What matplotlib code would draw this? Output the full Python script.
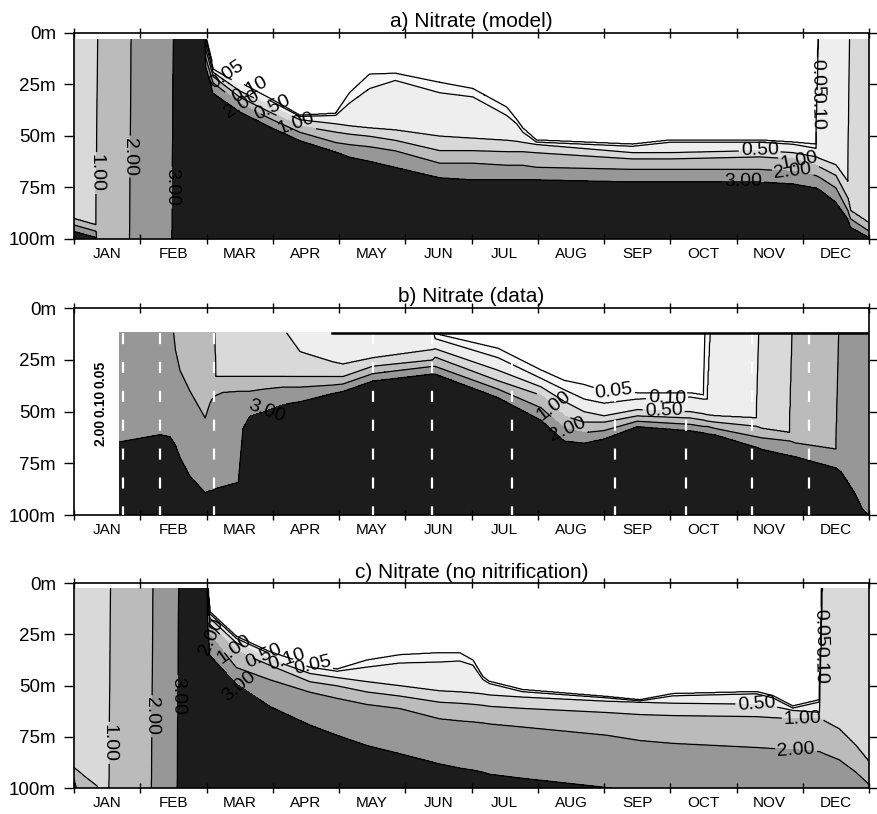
import numpy as np
import matplotlib
matplotlib.use("Agg")
import matplotlib.pyplot as plt

plt.rcParams['font.family'] = ['Liberation Sans', 'DejaVu Sans']

# ---------------- data ----------------
months = ["JAN", "FEB", "MAR", "APR", "MAY", "JUN", "JUL", "AUG", "SEP", "OCT", "NOV", "DEC"]
depth_ticks = [0, 25, 50, 75, 100]
depth_labels = ["0m", "25m", "50m", "75m", "100m"]
levels = [0.05, 0.10, 0.50, 1.00, 2.00, 3.00]
titles = ["a) Nitrate (model)", "b) Nitrate (data)", "c) Nitrate (no nitrification)"]

A = -40.0   # isoline above the surface (whole column exceeds the level)
B = 140.0   # isoline below 100 m (whole column below the level)

# Depth (m) of each nitrate isoline at key times (time in months from 1 Jan)
# ---- panel a (model)
a_time = [0.00, 0.33, 0.37, 0.83, 0.87, 1.47, 1.51, 1.95, 1.99, 2.10, 2.50, 3.00, 3.41, 3.95, 4.16,
          4.46, 4.85, 5.52, 6.02, 6.53, 6.68, 6.77, 6.98, 8.43, 9.00, 10.35, 10.85, 11.20, 11.26,
          11.50, 11.68, 11.72, 12.00]
a_d005 = [A, A, A, A, A, A, A, A, 2, 16.5, 24, 32.5, 40, 39, 29, 20, 19.6, 24, 27, 36, 42, 46, 52,
          54, 52, 52, 53, 54, A, A, A, A, A]
a_d010 = [A, A, A, A, A, A, A, A, 3, 17.5, 25, 33.5, 40.5, 40, 34, 27, 23, 29, 31, 40, 44, 48, 53,
          55, 53, 53, 54, 56, A, A, A, A, A]
a_d050 = [A, A, A, A, A, A, A, A, 5, 19, 28, 36, 42, 44, 45, 46, 47, 50, 51, 52, 52.5, 53, 54, 58,
          58, 57, 58, 60, 61, 64, 72, A, A]
a_d100 = [90, 93, A, A, A, A, A, A, 8, 21, 31, 39, 45, 48, 49, 50, 52, 57, 57, 57.5, 57.5, 57.5, 58,
          61, 61, 60, 61, 64, 65, 69, 80, 86, 92]
a_d200 = [93, 96, B, B, A, A, A, A, 12, 24, 34, 42, 48, 53, 54, 55, 57, 63, 63, 64, 64, 64, 65, 66,
          66, 66, 67, 69, 70, 75, 86, 90, 96]
a_d300 = [96, 99, B, B, B, B, A, A, 16, 29, 38, 46, 52, 57.5, 60, 62, 65, 70, 71, 71, 71, 71, 71, 72,
          72, 72, 73, 75, 76, 82, 90, 94, 99]

# ---- panel b (data)
b_time = [0.60, 1.30, 1.45, 1.53, 1.60, 1.75, 1.98, 2.05, 2.08, 2.14, 2.25, 2.48, 2.55, 2.65, 2.85,
          3.15, 3.21, 3.41, 3.91, 4.06, 4.51, 5.41, 5.45, 6.40, 7.05, 7.40, 7.70, 8.00, 8.50, 9.30,
          9.50, 9.56, 9.68, 10.30, 10.38, 10.80, 10.88, 11.50, 11.58, 11.78, 11.90, 12.00]
b_d005 = [A, A, A, A, A, A, A, A, A, A, A, A, A, A, A, A, A, A, A, A, A, A, 12.4, 19.5, 30, 35, 37,
          40, 41, 41, 42, A, A, A, A, A, A, A, A, A, A, A]
b_d010 = [A, A, A, A, A, A, A, A, A, A, A, A, A, A, A, A, A, A, A, A, A, 10, 14.8, 24, 34, 39.5, 44,
          46, 44, 43, 44, 44, A, A, A, A, A, A, A, A, A, A]
b_d050 = [A, A, A, A, A, A, A, A, A, A, A, A, A, A, A, A, 12, 21, 26, 27, 24, 20, 19.6, 30, 38, 45,
          50, 52, 49, 50, 51, 51.5, 52, 53, A, A, A, A, A, A, A, A]
b_d100 = [A, A, A, A, A, A, A, A, A, 33, 33, 33, 33, 33, 33, 33, 33, 33, 33, 33, 28, 25, 23.6, 35, 42,
          52, 55, 55, 52, 53, 54, 54.5, 55, 57, 58, 60, A, A, A, A, A, A]
b_d200 = [A, A, -5, 20, 30, 40, 53, 46, 44, 42, 40.5, 40, 40, 40, 39, 38, 38, 38, 37, 36.5, 31.5, 28,
          28, 39, 48, 58, 60, 59, 54.5, 56, 57, 57, 58, 62, 62.5, 64, 65, 68, A, A, A, A]
b_d300 = [65, 61, 62, 66, 72, 81, 89, 88, 88, 87, 86, 84, 58, 52, 50, 46.5, 46, 45, 41, 40, 35, 31.6,
          31.6, 43, 54, 64, 65, 63, 57, 59, 60, 60.5, 61, 67, 68, 71, 71.5, 77, 79, 89, 97, 100]
b_first_time = 0.69          # first cruise
b_top_depth = 12.0           # shallowest sample
b_top_line_start = 3.9
b_sample_times = [0.74, 1.30, 2.11, 4.51, 5.41, 6.61, 8.16, 9.23, 10.24, 11.10]

# ---- panel c (no nitrification)
c_time = [0.00, 0.35, 0.52, 0.56, 1.16, 1.20, 1.55, 1.59, 1.98, 2.02, 2.05, 2.45, 2.96, 3.56, 3.97,
          4.42, 4.92, 5.52, 5.82, 6.02, 6.17, 6.27, 6.77, 8.04, 8.54, 9.04, 10.30, 10.55, 10.85,
          11.25, 11.32, 11.55, 11.80, 12.00]
c_d005 = [A, A, A, A, A, A, A, A, A, 3, 14, 26, 33.6, 40, 42, 37.6, 35, 34, 34, 37.6, 45.7, 48, 52,
          55.4, 57, 54, 53, 55, 60, 57, A, A, A, A]
c_d010 = [A, A, A, A, A, A, A, A, A, 3.5, 15, 27, 34.5, 41, 43, 41, 39, 38.5, 38, 40, 47, 49, 53, 56,
          57.5, 55, 54, 56, 61, 58, A, A, A, A]
c_d050 = [A, A, A, A, A, A, A, A, A, 4, 17, 29, 37, 44, 46, 48, 50, 52.5, 53, 53.5, 54, 54.5, 55.5,
          57.5, 58, 58.5, 59, 60, 62, 63, A, A, A, A]
c_d100 = [90, 99, B, A, A, A, A, A, A, 5, 20, 33, 40, 48, 50, 53, 55, 58, 58.5, 59, 59.5, 60, 61, 63,
          64, 64.5, 65, 65.5, 66, 66, 67, 71, 79, 87]
c_d200 = [95, B, B, B, B, A, A, A, A, 8, 25, 41, 47, 53, 56, 59, 61, 66, 67, 67.5, 68, 68.5, 70, 74,
          76.6, 78, 80, 80.5, 81, 82, 83, 86, 92, 98]
c_d300 = [B, B, B, B, B, B, B, A, A, 20, 35, 49, 60, 69, 74, 79, 83, 88, 90, 91, 92, 93, 95, 99.5,
          101, 103, 106, 107, 108, 109, 110, 112, 115, 118]

a_top_depth = 3.0
c_top_depth = 2.5

# contour label positions (time, depth) per level
a_label_pos = {0.05: [(2.3, 20), (11.22, 22)], 0.10: [(2.65, 28), (11.27, 38)],
               0.50: [(3.0, 36), (10.35, 57)], 1.00: [(0.35, 68), (3.35, 44), (10.95, 61)],
               2.00: [(0.85, 60), (2.55, 34), (10.85, 67)], 3.00: [(1.49, 75), (10.1, 72)]}
b_label_pos = {0.05: [(8.15, 40)], 0.10: [(8.95, 43)], 0.50: [(8.9, 50)],
               1.00: [(7.25, 47)], 2.00: [(7.45, 58)], 3.00: [(2.9, 49)]}
c_label_pos = {0.05: [(3.6, 40), (11.28, 22)], 0.10: [(3.2, 38), (11.3, 40)],
               0.50: [(2.85, 36), (10.3, 59)], 1.00: [(0.54, 78), (2.4, 33), (11.0, 66)],
               2.00: [(1.18, 65), (2.15, 24), (10.9, 81)], 3.00: [(1.57, 55), (2.5, 50)]}
b_side_labels = ["2.00", "0.10", "0.05"]

# ---------------- helpers ----------------
fill_bounds = [-10, 0.05, 0.10, 0.50, 1.00, 2.00, 3.00, 100]
fill_colors = ['#ffffff', '#f7f7f7', '#eeeeee', '#d9d9d9', '#bbbbbb', '#979797', '#1c1c1c']

t_grid = np.linspace(0, 12, 1201)
z_grid = np.linspace(0, 100, 401)


def build_field(times, depth_lists):
    D = np.column_stack([np.interp(t_grid, times, np.asarray(d, float)) for d in depth_lists])
    F = np.empty((len(z_grid), len(t_grid)))
    fp = np.concatenate([[0.0], levels, [4.0]])
    for j in range(len(t_grid)):
        d = np.maximum.accumulate(D[j]) + np.arange(len(levels)) * 0.05
        xp = np.concatenate([[d[0] - 30], d, [d[-1] + 30]])
        F[:, j] = np.interp(z_grid, xp, fp)
    return F


fig = plt.figure(figsize=(8.78, 8.14), dpi=100)
rects = [[0.0843, 0.7064, 0.9055, 0.2531],
         [0.0843, 0.3673, 0.9055, 0.2543],
         [0.0843, 0.0319, 0.9055, 0.2518]]

panels = [
    (a_time, [a_d005, a_d010, a_d050, a_d100, a_d200, a_d300], a_label_pos),
    (b_time, [b_d005, b_d010, b_d050, b_d100, b_d200, b_d300], b_label_pos),
    (c_time, [c_d005, c_d010, c_d050, c_d100, c_d200, c_d300], c_label_pos),
]

T, Zg = np.meshgrid(t_grid, z_grid)

for i, (times, dl, lab) in enumerate(panels):
    ax = fig.add_axes(rects[i])
    F = build_field(times, dl)
    if i == 0:
        F[Zg < a_top_depth] = np.nan
    elif i == 1:
        F[(Zg < b_top_depth) | (T < b_first_time)] = np.nan
    else:
        F[Zg < c_top_depth] = np.nan
    ax.contourf(T, Zg, F, levels=fill_bounds, colors=fill_colors)
    for lev in levels:
        cs = ax.contour(T, Zg, F, levels=[lev], colors='k', linewidths=0.9)
        pos = lab.get(lev, [])
        if pos:
            try:
                ax.clabel(cs, manual=pos, fmt='%.2f', fontsize=14, inline=True,
                          inline_spacing=2, colors='k')
            except Exception:
                pass
    if i == 1:
        for st in b_sample_times:
            ax.plot([st, st], [b_top_depth, 100], color='white', lw=1.6,
                    dashes=(5, 8), zorder=3)
        ax.plot([b_top_line_start, 12], [b_top_depth, b_top_depth], color='k', lw=1.8, zorder=4)
        for k, s in enumerate(b_side_labels):
            ax.text(0.40, 60 - 14 * k, s, rotation=90, fontsize=10, ha='center', va='center',
                    fontweight='bold')

    ax.set_xlim(0, 12)
    ax.set_ylim(100, 0)
    ax.set_xticks(np.arange(0, 13))
    ax.set_xticklabels([])
    ax.set_xticks(np.arange(12) + 0.5, minor=True)
    ax.set_xticklabels(months, minor=True, fontsize=11)
    ax.tick_params(axis='x', which='minor', length=0, pad=6)
    ax.tick_params(axis='x', which='major', direction='inout', length=7, width=1.0,
                   top=True, bottom=True)
    ax.set_yticks(depth_ticks)
    ax.set_yticklabels(depth_labels, fontsize=13.5)
    ax.tick_params(axis='y', which='major', direction='out', length=7, width=1.0,
                   left=True, right=True, pad=6)
    for sp in ax.spines.values():
        sp.set_linewidth(1.2)
    ax.set_title(titles[i], fontsize=15, pad=4)

fig.savefig("out.png", dpi=100)
